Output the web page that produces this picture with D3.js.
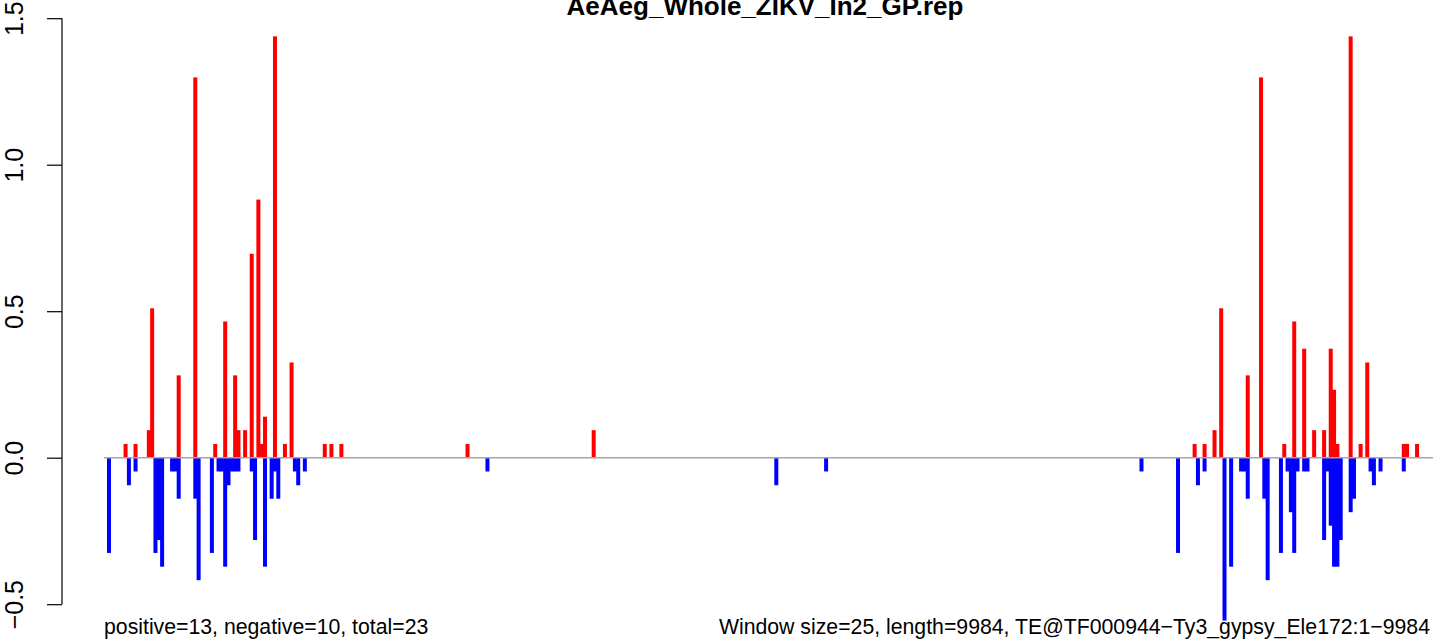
<!DOCTYPE html>
<html>
<head>
<meta charset="utf-8">
<script src="https://cdn.jsdelivr.net/npm/d3@7"></script>
<style>
  html, body { margin: 0; padding: 0; background: #ffffff; }
  svg { display: block; }
  text { font-family: "Liberation Sans", Arial, Helvetica, sans-serif; fill: #000; }
</style>
</head>
<body>
<script>
// ---- data (window index, 1-based, of 400 windows of 25 bp) ----
const title = "AeAeg_Whole_ZIKV_In2_GP.rep";
const leftNote = "positive=13, negative=10, total=23";
const rightNote = "Window size=25, length=9984, TE@TF000944\u2212Ty3_gypsy_Ele172:1\u22129984";
const windowCount = 400;

const positiveWindows = [7,10,14,15,23,28,34,37,40,41,43,45,47,48,49,52,55,57,67,69,72,110,148,
  329,332,335,337,345,349,356,359,362,365,368,370,371,372,376,379,381,392,393,396];
const positiveValues = [0.047,0.047,0.094,0.510,0.281,1.298,0.047,0.465,0.281,0.094,0.094,0.696,0.881,0.047,0.140,1.438,0.047,0.325,0.047,0.047,0.047,0.047,0.094,
  0.047,0.047,0.094,0.510,0.281,1.298,0.047,0.465,0.372,0.094,0.094,0.372,0.232,0.047,1.438,0.047,0.325,0.047,0.047,0.047];

const negativeWindows = [2,8,10,16,17,18,21,22,23,28,29,33,35,36,37,38,39,40,41,45,46,49,51,52,53,58,59,61,
  116,203,218,313,
  324,330,332,338,340,343,344,345,350,351,355,357,358,359,360,362,363,368,369,370,371,372,373,376,377,382,383,385,392];
const negativeValues = [-0.325,-0.094,-0.047,-0.325,-0.281,-0.372,-0.047,-0.047,-0.140,-0.140,-0.418,-0.325,-0.047,-0.047,-0.372,-0.094,-0.047,-0.047,-0.047,-0.047,-0.281,-0.372,-0.140,-0.047,-0.140,-0.047,-0.094,-0.047,
  -0.047,-0.094,-0.047,-0.047,
  -0.325,-0.094,-0.047,-0.556,-0.372,-0.047,-0.047,-0.140,-0.140,-0.418,-0.325,-0.047,-0.186,-0.325,-0.047,-0.047,-0.047,-0.281,-0.047,-0.232,-0.372,-0.372,-0.281,-0.186,-0.140,-0.047,-0.094,-0.047,-0.047];

const yTicks = [-0.5, 0.0, 0.5, 1.0, 1.5];
const yTickLabels = ["\u22120.5", "0.0", "0.5", "1.0", "1.5"];

// ---- layout ----
const W = 1433, H = 641;
const plot = { left: 104, right: 1432, top: 18.2, bottom: 604.2 };

const svg = d3.select("body").append("svg").attr("width", W).attr("height", H);

const x = d3.scaleLinear().domain([0, windowCount]).range([plot.left, plot.right]);
const y = d3.scaleLinear().domain([-0.5, 1.5]).range([plot.bottom, plot.top]);

const barPad = 0.34;

// positive bars
svg.append("g").selectAll("rect")
  .data(positiveWindows.map((w, i) => ({ w, v: positiveValues[i] })))
  .join("rect")
  .attr("x", d => x(d.w - 1) - barPad)
  .attr("width", d => x(d.w) - x(d.w - 1) + 2 * barPad)
  .attr("y", d => y(d.v))
  .attr("height", d => y(0) - y(d.v))
  .attr("fill", "#ff0000");

// negative bars
svg.append("g").selectAll("rect")
  .data(negativeWindows.map((w, i) => ({ w, v: negativeValues[i] })))
  .join("rect")
  .attr("x", d => x(d.w - 1) - barPad)
  .attr("width", d => x(d.w) - x(d.w - 1) + 2 * barPad)
  .attr("y", y(0))
  .attr("height", d => y(d.v) - y(0))
  .attr("fill", "#0000ff");

// zero line
svg.append("line")
  .attr("x1", plot.left).attr("x2", W)
  .attr("y1", y(0)).attr("y2", y(0))
  .attr("stroke", "#a6a6a6").attr("stroke-width", 1.6);

// y axis
const axisX = 62;
const yAxis = d3.axisLeft(y).tickValues(yTicks).tickSize(15).tickFormat((d, i) => yTickLabels[i]);
const gy = svg.append("g").attr("transform", `translate(${axisX},0)`).call(yAxis);
gy.select(".domain").attr("stroke", "#000").attr("stroke-width", 1.2)
  .attr("d", `M0,${y(1.5)}V${y(-0.5)}`);
gy.selectAll(".tick line").attr("stroke", "#000").attr("stroke-width", 1.2);
gy.selectAll(".tick text").remove();
gy.selectAll(".tick").append("text")
  .attr("transform", `translate(${23 - axisX},0) rotate(-90)`)
  .attr("text-anchor", "middle")
  .style("font-size", "25px")
  .text((d, i) => yTickLabels[i]);

// title (cropped at the top edge, as in the reference)
svg.append("text")
  .attr("x", 765).attr("y", 15)
  .attr("text-anchor", "middle")
  .style("font-size", "26px").style("font-weight", "bold")
  .text(title);

// bottom notes
svg.append("text")
  .attr("x", plot.left).attr("y", 634)
  .attr("text-anchor", "start")
  .style("font-size", "21.25px")
  .text(leftNote);
svg.append("text")
  .attr("x", plot.right - 2).attr("y", 634)
  .attr("text-anchor", "end")
  .style("font-size", "21.25px")
  .text(rightNote);
</script>
</body>
</html>
